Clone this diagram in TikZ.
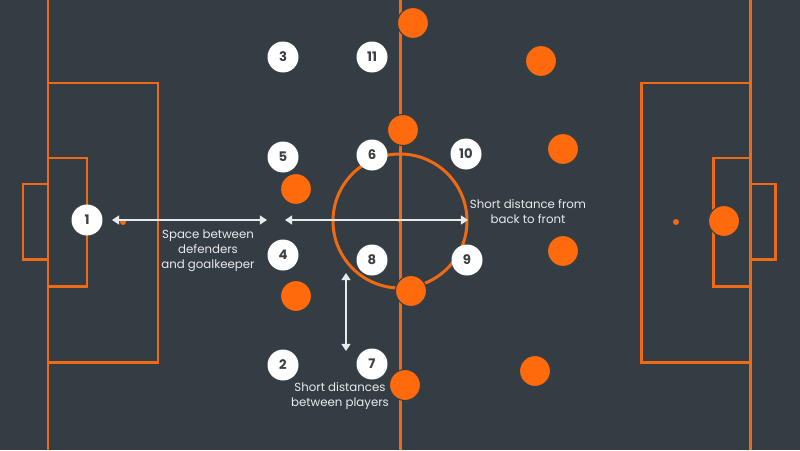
\documentclass[tikz,border=0pt]{standalone}
\usepackage{fontspec}
\setmainfont{Poppins}
\usetikzlibrary{arrows.meta}
\definecolor{color_pitch_bg}{HTML}{353D44}
\definecolor{color_pitch_line}{HTML}{F06A14}
\definecolor{color_player_away}{HTML}{FF6A0C}
\definecolor{color_player_home}{HTML}{FFFFFF}
\definecolor{color_player_number}{HTML}{3A4046}
\definecolor{color_note_text}{HTML}{E8EAEC}
\def\pitchlinewidth{1.7pt}
\def\playersize{0.62cm}
\def\notesize{\fontsize{6.7}{8.5}\selectfont}
\def\numbersize{\fontsize{7.5}{8}\selectfont}
\tikzset{
    pitchline/.style={draw=color_pitch_line,line width=\pitchlinewidth},
    homeplayer/.style={circle,fill=color_player_home,minimum size=\playersize,inner sep=0pt,
        text=color_player_number,font=\numbersize\bfseries},
    awayplayer/.style={circle,fill=color_player_away,draw=color_pitch_bg,line width=0.6pt,
        minimum size=\playersize,inner sep=0pt},
    distarrow/.style={{Triangle[length=4pt,width=5pt]}-{Triangle[length=4pt,width=5pt]},
        draw=color_note_text,line width=1pt},
    note/.style={text=color_note_text,font=\notesize,align=center}
}

\begin{document}
\begin{tikzpicture}[x=0.02cm,y=-0.02cm]
        \fill[color_pitch_bg] (0,0) rectangle (800,450);
        \useasboundingbox (0,0) rectangle (800,450);
        % touchlines and halfway line
        \draw[pitchline] (48,0) -- (48,450);
        \draw[pitchline] (750,0) -- (750,450);
        \draw[pitchline] (400,0) -- (400,450);
        \draw[pitchline] (400,221) circle (67);
        \fill[color_pitch_line] (400,221) circle (2);
        % left half
        \draw[pitchline] (48,83) rectangle (158,362);
        \draw[pitchline] (48,158) rectangle (87,286);
        \draw[pitchline] (48,184) rectangle (23,259);
        \fill[color_pitch_line] (123,222) circle (3);
        % right half
        \draw[pitchline] (750,83) rectangle (641,362);
        \draw[pitchline] (750,158) rectangle (713,286);
        \draw[pitchline] (750,184) rectangle (775,259);
        \fill[color_pitch_line] (676,222) circle (3);
        % opponents
        \foreach \x/\y in {413/23,403/130,296/189,296/296,411/291,405/385,541/61,563/149,563/251,535/371,724/221}
            \node[awayplayer] at (\x,\y) {};
        % own team
        \node[homeplayer] (p1) at (87,220) {1};
        \node[homeplayer] (p2) at (283,365) {2};
        \node[homeplayer] (p3) at (283,57) {3};
        \node[homeplayer] (p4) at (283,255) {4};
        \node[homeplayer] (p5) at (283,157) {5};
        \node[homeplayer] (p6) at (372,155) {6};
        \node[homeplayer] (p7) at (372,364) {7};
        \node[homeplayer] (p8) at (372,260) {8};
        \node[homeplayer] (p9) at (467,260) {9};
        \node[homeplayer] (p10) at (466,154) {10};
        \node[homeplayer] (p11) at (372,57) {11};
        % distances
        \coordinate (gap_keeper_l) at (112,220);
        \coordinate (gap_keeper_r) at (267,220);
        \coordinate (gap_length_l) at (285,220);
        \coordinate (gap_length_r) at (468,220);
        \coordinate (gap_lines_t) at (346,273);
        \coordinate (gap_lines_b) at (346,351);
        \draw[distarrow] (gap_keeper_l) -- (gap_keeper_r);
        \draw[distarrow] (gap_length_l) -- (gap_length_r);
        \draw[distarrow] (gap_lines_t) -- (gap_lines_b);
        \node[note] (note_keeper) at (208,251) {Space between\\defenders\\and goalkeeper};
        \node[note] (note_length) at (528,212) {Short distance from\\back to front};
        \node[note] (note_lines) at (340,396) {Short distances\\between players};
    \end{tikzpicture}
\end{document}
